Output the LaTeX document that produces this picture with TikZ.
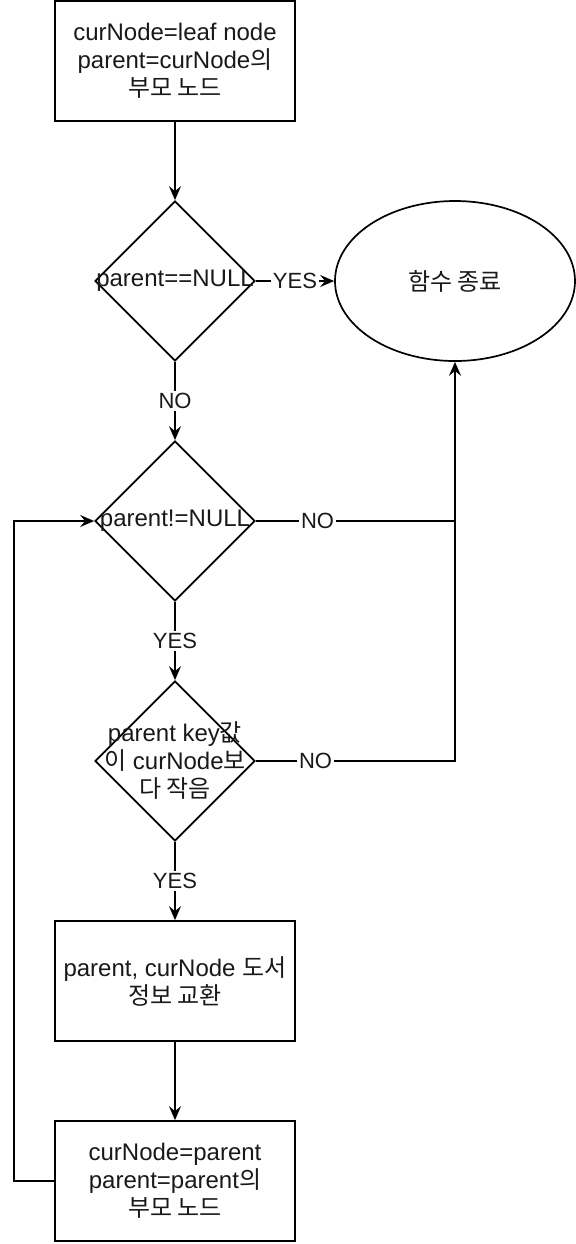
\documentclass[tikz,border=0pt]{standalone}
\usepackage{fontspec}
\setmainfont{Liberation Sans}
\newfontfamily\krfont{Noto Sans CJK KR}
\newcommand{\kr}[1]{{\krfont #1}}
\newcommand{\mainsize}{\fontsize{12}{14}\selectfont}
\newcommand{\lblsize}{\fontsize{11}{13}\selectfont}
\usepackage{xcolor}
\usepackage{tikz}
\usetikzlibrary{arrows.meta,shapes.geometric}

\begin{document}
\begin{tikzpicture}[x=0.5pt,y=-0.5pt]
\tikzset{
    flow/.style={-{Stealth[length=7pt,width=6pt,inset=2.5pt]}},
    every path/.style={line width=0.85pt},
    procbox/.style={draw, line width=0.85pt, minimum width=120pt, minimum height=60pt,
        align=center, inner sep=0pt, font=\mainsize, text=black!90},
    decision/.style={draw, line width=0.85pt, diamond, aspect=1, minimum width=80pt,
        minimum height=80pt, inner sep=0pt},
    termnode/.style={draw, line width=0.85pt, ellipse, minimum width=120pt,
        minimum height=80pt, inner sep=0pt, font=\mainsize, text=black!90},
    dtext/.style={align=center, font=\mainsize, text=black!90, inner sep=0pt},
    edgelbl/.style={fill=white, font=\lblsize, text=black!90, inner sep=1pt}
}
\useasboundingbox (0,0) rectangle (576,1244);

    % boxes and decisions
    \node[procbox] (start) at (175,61) {curNode=leaf node\\parent=curNode\kr{의}\\\kr{부모 노드}};
    \node[decision] (isnull) at (175,281) {};
    \node[dtext] at (isnull) {parent==NULL};
    \node[termnode] (finish) at (455,281) {\kr{함수 종료}};
    \node[decision] (notnull) at (175,521) {};
    \node[dtext] at (notnull) {parent!=NULL};
    \node[decision] (smaller) at (175,761) {};
    \node[dtext] at (smaller) {parent key\kr{값}\\\kr{이} curNode\kr{보}\\\kr{다 작음}};
    \node[procbox] (swap) at (175,981) {parent, curNode \kr{도서}\\\kr{정보 교환}};
    \node[procbox] (moveup) at (175,1181) {curNode=parent\\parent=parent\kr{의}\\\kr{부모 노드}};

    % connectors
    \draw[flow] (start) -- (isnull);
    \draw[flow] (isnull) -- node[edgelbl]{YES} (finish);
    \draw[flow] (isnull) -- node[edgelbl]{NO} (notnull);
    \draw[flow] (notnull.east) -- node[edgelbl, pos=0.31]{NO} (notnull.east -| finish.south) -- (finish.south);
    \draw[flow] (notnull) -- node[edgelbl]{YES} (smaller);
    \draw (smaller.east) -- node[edgelbl, pos=0.3]{NO} (smaller.east -| finish.south) -- (notnull.east -| finish.south);
    \draw[flow] (smaller) -- node[edgelbl]{YES} (swap);
    \draw[flow] (swap) -- (moveup);
    \draw[flow] (moveup.west) -- ++(-40,0) |- (notnull.west);

\end{tikzpicture}
\end{document}
